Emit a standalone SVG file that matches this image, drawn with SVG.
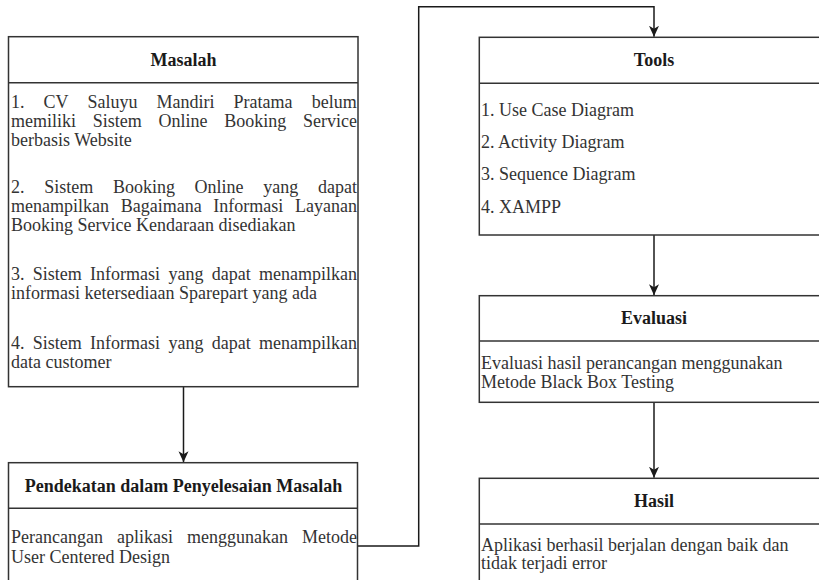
<svg xmlns="http://www.w3.org/2000/svg" width="819" height="580" viewBox="0 0 819 580">
  <style>
    .box { fill: #ffffff; stroke: #333333; stroke-width: 1.5; }
    .sep { stroke: #333333; stroke-width: 1.5; }
    .title { font-family: "Liberation Serif", "Times New Roman", serif; font-size: 18px; font-weight: bold; fill: #1a1a1a; text-anchor: middle; }
    .body { font-family: "Liberation Serif", "Times New Roman", serif; font-size: 18px; fill: #333333; }
    .conn { fill: none; stroke: #1a1a1a; stroke-width: 1.5; }
  </style>
  <defs>
    <marker id="arrow" markerUnits="userSpaceOnUse" markerWidth="12" markerHeight="12" viewBox="0 0 12 12" refX="11" refY="6" orient="auto">
      <path d="M0,1 L11,6 L0,11 L3,6 Z" fill="#1a1a1a"/>
    </marker>
  </defs>

  <rect width="819" height="580" fill="#ffffff"/>

  <!-- connectors -->
  <g id="connectors">
    <path class="conn" d="M183.5,386.7 V462.2" marker-end="url(#arrow)"/>
    <path class="conn" d="M357.5,546 H418.7 V6.7 H654 V36.8" marker-end="url(#arrow)"/>
    <path class="conn" d="M654,235 V295.2" marker-end="url(#arrow)"/>
    <path class="conn" d="M654,402.3 V477.8" marker-end="url(#arrow)"/>
  </g>

  <!-- Masalah -->
  <g id="masalah">
    <rect class="box" x="8.5" y="36.7" width="349.5" height="350"/>
    <line class="sep" x1="8.5" y1="82.7" x2="358" y2="82.7"/>
    <text class="title" x="183.5" y="65.7">Masalah</text>
    <text class="body">
      <tspan x="11" y="108" word-spacing="14.6">1. CV Saluyu Mandiri Pratama belum</tspan>
      <tspan x="11" y="127" word-spacing="12.25">memiliki Sistem Online Booking Service</tspan>
      <tspan x="11" y="146">berbasis Website</tspan>
      <tspan x="11" y="193" word-spacing="15.2">2. Sistem Booking Online yang dapat</tspan>
      <tspan x="11" y="212" word-spacing="7.2">menampilkan Bagaimana Informasi Layanan</tspan>
      <tspan x="11" y="231">Booking Service Kendaraan disediakan</tspan>
      <tspan x="11" y="279.5" word-spacing="3.8">3. Sistem Informasi yang dapat menampilkan</tspan>
      <tspan x="11" y="298.5">informasi ketersediaan Sparepart yang ada</tspan>
      <tspan x="11" y="348.5" word-spacing="3.8">4. Sistem Informasi yang dapat menampilkan</tspan>
      <tspan x="11" y="367.5">data customer</tspan>
    </text>
  </g>

  <!-- Pendekatan dalam Penyelesaian Masalah -->
  <g id="pendekatan">
    <rect class="box" x="8.5" y="462.7" width="349" height="135"/>
    <line class="sep" x1="8.5" y1="508.3" x2="357.5" y2="508.3"/>
    <text class="title" x="183.5" y="491.5">Pendekatan dalam Penyelesaian Masalah</text>
    <text class="body">
      <tspan x="11" y="543.3" word-spacing="9.5">Perancangan aplikasi menggunakan Metode</tspan>
      <tspan x="11" y="562.7">User Centered Design</tspan>
    </text>
  </g>

  <!-- Tools -->
  <g id="tools">
    <rect class="box" x="479.3" y="37.3" width="350" height="197.7"/>
    <line class="sep" x1="479.3" y1="83.3" x2="829.3" y2="83.3"/>
    <text class="title" x="654" y="66.3">Tools</text>
    <text class="body">
      <tspan x="481" y="116">1. Use Case Diagram</tspan>
      <tspan x="481" y="148">2. Activity Diagram</tspan>
      <tspan x="481" y="179.5">3. Sequence Diagram</tspan>
      <tspan x="481" y="212.5">4. XAMPP</tspan>
    </text>
  </g>

  <!-- Evaluasi -->
  <g id="evaluasi">
    <rect class="box" x="479.3" y="295.7" width="350" height="106.6"/>
    <line class="sep" x1="479.3" y1="341" x2="829.3" y2="341"/>
    <text class="title" x="654" y="324.3">Evaluasi</text>
    <text class="body">
      <tspan x="481" y="369.3">Evaluasi hasil perancangan menggunakan</tspan>
      <tspan x="481" y="388.3">Metode Black Box Testing</tspan>
    </text>
  </g>

  <!-- Hasil -->
  <g id="hasil">
    <rect class="box" x="479.3" y="478.3" width="350" height="120"/>
    <line class="sep" x1="479.3" y1="524" x2="829.3" y2="524"/>
    <text class="title" x="654" y="507.2">Hasil</text>
    <text class="body">
      <tspan x="481" y="550.7">Aplikasi berhasil berjalan dengan baik dan</tspan>
      <tspan x="481" y="569.3">tidak terjadi error</tspan>
    </text>
  </g>
</svg>
